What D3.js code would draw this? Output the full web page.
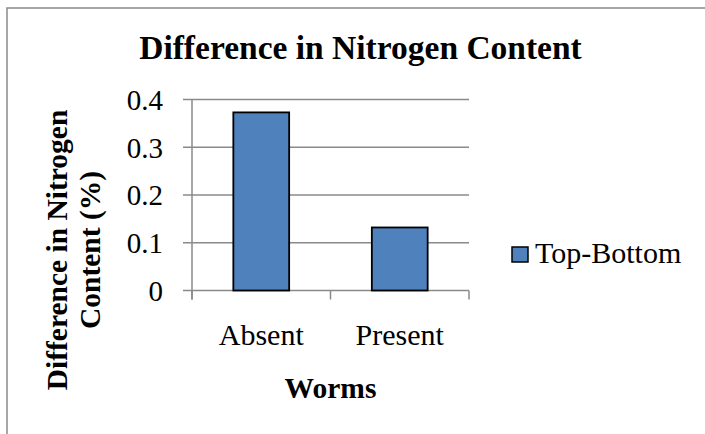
<!DOCTYPE html>
<html>
<head>
<meta charset="utf-8">
<script src="https://cdn.jsdelivr.net/npm/d3@7"></script>
<style>
  body { margin: 0; background: #fff; }
  .domain { display: none; }
</style>
</head>
<body>
<div class="visual"></div>
<script>
const categories = ["Absent", "Present"];
const values = [0.373, 0.132];
const yTicks = [0, 0.1, 0.2, 0.3, 0.4];
const seriesName = "Top-Bottom";

const serif = "'Liberation Serif', 'DejaVu Serif', serif";

function display() {
    const width = 705, height = 434;
    const left = 192, right = 469, top = 99.5, bottom = 290.5;

    const svg = d3.select(".visual")
        .append("svg")
        .attr("width", width)
        .attr("height", height)
        .style("font-family", serif);

    // chart frame
    svg.append("rect")
        .attr("x", 7).attr("y", 8)
        .attr("width", width).attr("height", height)
        .attr("fill", "none")
        .attr("stroke", "#8a8a8a")
        .attr("stroke-width", 1.5);

    const x = d3.scaleBand()
        .domain(categories)
        .range([left, right])
        .paddingInner(0.597)
        .paddingOuter(0.2985);

    const y = d3.scaleLinear()
        .domain([0, 0.4])
        .range([bottom, top]);

    // gridlines
    svg.append("g")
        .selectAll("line")
        .data(yTicks)
        .enter()
        .append("line")
        .attr("x1", left - 9)
        .attr("x2", right)
        .attr("y1", d => y(d))
        .attr("y2", d => y(d))
        .attr("stroke", "#8a8a8a")
        .attr("stroke-width", 1.5);

    // y axis line
    svg.append("line")
        .attr("x1", left).attr("x2", left)
        .attr("y1", top).attr("y2", bottom + 9)
        .attr("stroke", "#8a8a8a")
        .attr("stroke-width", 1.5);

    // x ticks at category boundaries
    const bounds = d3.range(categories.length + 1).map(i => left + i * x.step());
    svg.append("g")
        .selectAll("line")
        .data(bounds)
        .enter()
        .append("line")
        .attr("x1", d => d).attr("x2", d => d)
        .attr("y1", bottom).attr("y2", bottom + 9)
        .attr("stroke", "#8a8a8a")
        .attr("stroke-width", 1.5);

    const yAxis = svg.append("g")
        .attr("transform", `translate(${left - 9},0)`)
        .call(d3.axisLeft(y).tickValues(yTicks).tickSize(0).tickPadding(20).tickFormat(d => d === 0 ? "0" : d3.format(".1f")(d)));
    yAxis.attr("font-family", null).attr("font-size", null);
    yAxis.selectAll("text")
        .style("font-family", serif)
        .style("font-size", "29px")
        .attr("fill", "#000")
        .attr("dy", "0.34em");

    const xAxis = svg.append("g")
        .attr("transform", `translate(0,${bottom})`)
        .call(d3.axisBottom(x).tickSize(0).tickPadding(0));
    xAxis.attr("font-family", null).attr("font-size", null);
    xAxis.selectAll("text")
        .style("font-family", serif)
        .style("font-size", "30px")
        .attr("fill", "#000")
        .attr("dy", null)
        .attr("y", 54);

    // bars
    svg.append("g")
        .selectAll("rect")
        .data(values)
        .enter()
        .append("rect")
        .attr("x", (d, i) => x(categories[i]))
        .attr("y", d => y(d))
        .attr("width", x.bandwidth())
        .attr("height", d => bottom - y(d))
        .attr("fill", "#4f81bd")
        .attr("stroke", "#000")
        .attr("stroke-width", 1.8);

    // titles
    svg.append("text")
        .attr("x", 360.5).attr("y", 59)
        .attr("text-anchor", "middle")
        .style("font-size", "33.5px")
        .style("font-weight", "bold")
        .text("Difference in Nitrogen Content");

    svg.append("text")
        .attr("x", 330.5).attr("y", 398)
        .attr("text-anchor", "middle")
        .style("font-size", "29.5px")
        .style("font-weight", "bold")
        .text("Worms");

    const yTitle = svg.append("text")
        .attr("transform", "translate(67,250) rotate(-90)")
        .attr("text-anchor", "middle")
        .style("font-size", "29.5px")
        .style("font-weight", "bold");
    yTitle.append("tspan").attr("x", 0).attr("y", 0).text("Difference in Nitrogen");
    yTitle.append("tspan").attr("x", 0).attr("y", 33).text("Content (%)");

    // legend
    svg.append("rect")
        .attr("x", 512).attr("y", 247)
        .attr("width", 16).attr("height", 15)
        .attr("fill", "#4f81bd")
        .attr("stroke", "#000")
        .attr("stroke-width", 1.5);
    svg.append("text")
        .attr("x", 535).attr("y", 263)
        .style("font-size", "30px")
        .text(seriesName);
}

window.onload = function() {
    display();
};
</script>
</body>
</html>
